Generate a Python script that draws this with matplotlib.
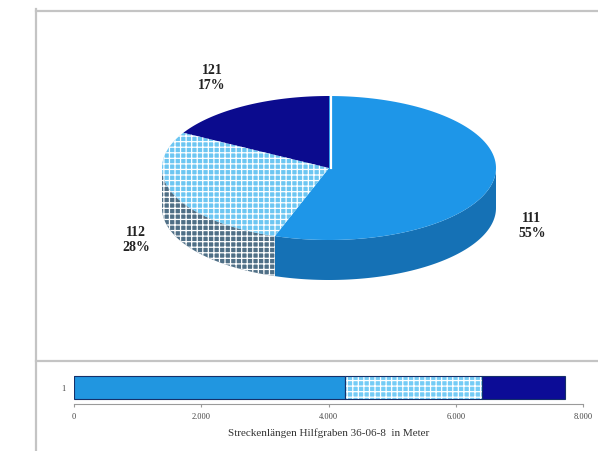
import numpy as np
import matplotlib.pyplot as plt
from matplotlib.patches import Polygon
from matplotlib.ticker import FuncFormatter

plt.rcParams['font.family'] = ['Liberation Serif', 'DejaVu Serif']
plt.rcParams['hatch.linewidth'] = 0.9

# Streckenlängen je Abschnitt (Meter)
codes = ['111', '112', '121']
lengths = [4260, 2150, 1300]
x_ticks = [0, 2000, 4000, 6000, 8000]

top_colors = ['#1e96e8', '#6cc6f2', '#0b0b8e']
side_colors = ['#1571b5', '#4f6f86', '#08086a']
bar_colors = ['#2196e0', '#74ccf6', '#0c0c96']
hatches = [None, '+++', None]
label_pos = [(532, 226), (136, 240), (212, 78)]

total = sum(lengths)
shares = [v / total for v in lengths]

fig = plt.figure(figsize=(5.98, 4.52), dpi=100)

# Zeichenfläche in Pixelkoordinaten für Torte und Rahmen
ax = fig.add_axes([0, 0, 1, 1])
ax.set_xlim(0, 598)
ax.set_ylim(452, 0)
ax.axis('off')

# Rahmenlinien
lc = '#c4c4c4'
ax.plot([36, 36], [10, 452], color=lc, lw=1.6)
ax.plot([36, 598], [12, 12], color=lc, lw=1.6)
ax.plot([36, 598], [362, 362], color=lc, lw=1.6)

# 3D-Torte
cx, cy, rx, ry, depth = 329, 169, 167, 72, 40


def arc(t0, t1, n=120):
    t = np.radians(np.linspace(t0, t1, n))
    return cx + rx * np.cos(t), cy - ry * np.sin(t)


def fill(pts, face, hatch, z):
    ax.add_patch(Polygon(pts, closed=True, facecolor=face, edgecolor='none', lw=0, zorder=z))
    if hatch:
        ax.add_patch(Polygon(pts, closed=True, facecolor='none', edgecolor='white',
                             lw=0, hatch=hatch, zorder=z + 0.1))


start = 90.0
angles = []
for s in shares:
    a0 = start
    a1 = start - 360 * s
    angles.append((a0, a1))
    start = a1

# Seitenwände (nur vorderer Teil sichtbar)
for i, (a0, a1) in enumerate(angles):
    for k in (-1, 0, 1):
        lo = max(a1, -180 + 360 * k)
        hi = min(a0, 360 * k)
        if hi <= lo:
            continue
        xs, ys = arc(hi, lo)
        pts = np.column_stack([np.r_[xs, xs[::-1]], np.r_[ys, ys[::-1] + depth]])
        fill(pts, side_colors[i], hatches[i], 2)

# Deckflächen
for i, (a0, a1) in enumerate(angles):
    xs, ys = arc(a0, a1)
    pts = np.column_stack([np.r_[cx, xs], np.r_[cy, ys]])
    fill(pts, top_colors[i], hatches[i], 3)

# schmaler Spalt zwischen 121 und 111
ax.plot([cx + 2, cx + 2], [cy, cy - ry], color='white', lw=1.6, zorder=4)

for code, s, (lx, ly) in zip(codes, shares, label_pos):
    ax.text(lx, ly, f'{code}\n{s * 100:.0f}%', ha='center', va='center',
            fontsize=10, fontweight='bold', linespacing=1.2, color='#222222', zorder=5)

# gestapelter Balken
bx = fig.add_axes([74 / 598, 47 / 452, 509 / 598, 33 / 452])
left = 0
for i, v in enumerate(lengths):
    bx.barh(1, v, left=left, height=0.7, color=bar_colors[i], edgecolor='none', lw=0)
    if hatches[i]:
        bx.barh(1, v, left=left, height=0.7, facecolor='none', edgecolor='white',
                lw=0, hatch=hatches[i])
    bx.barh(1, v, left=left, height=0.7, facecolor='none', edgecolor='#15306a', lw=0.8)
    left += v
bx.set_xlim(0, 8000)
bx.set_ylim(0.5, 1.5)
bx.set_yticks([1])
bx.set_yticklabels(['1'])
bx.set_xticks(x_ticks)
bx.xaxis.set_major_formatter(FuncFormatter(lambda v, p: f'{int(v):,}'.replace(',', '.')))
for side in ('top', 'right', 'left'):
    bx.spines[side].set_visible(False)
bx.spines['bottom'].set_color('#9a9a9a')
bx.tick_params(axis='x', labelsize=6, length=2, color='#9a9a9a', pad=4, labelcolor='#444444')
bx.tick_params(axis='y', labelsize=6, length=0, pad=6, labelcolor='#444444')
bx.set_xlabel('Streckenlängen Hilfgraben 36-06-8  in Meter', fontsize=8, labelpad=5, color='#333333')
bx.patch.set_alpha(0)

fig.savefig('out.png', dpi=100)
